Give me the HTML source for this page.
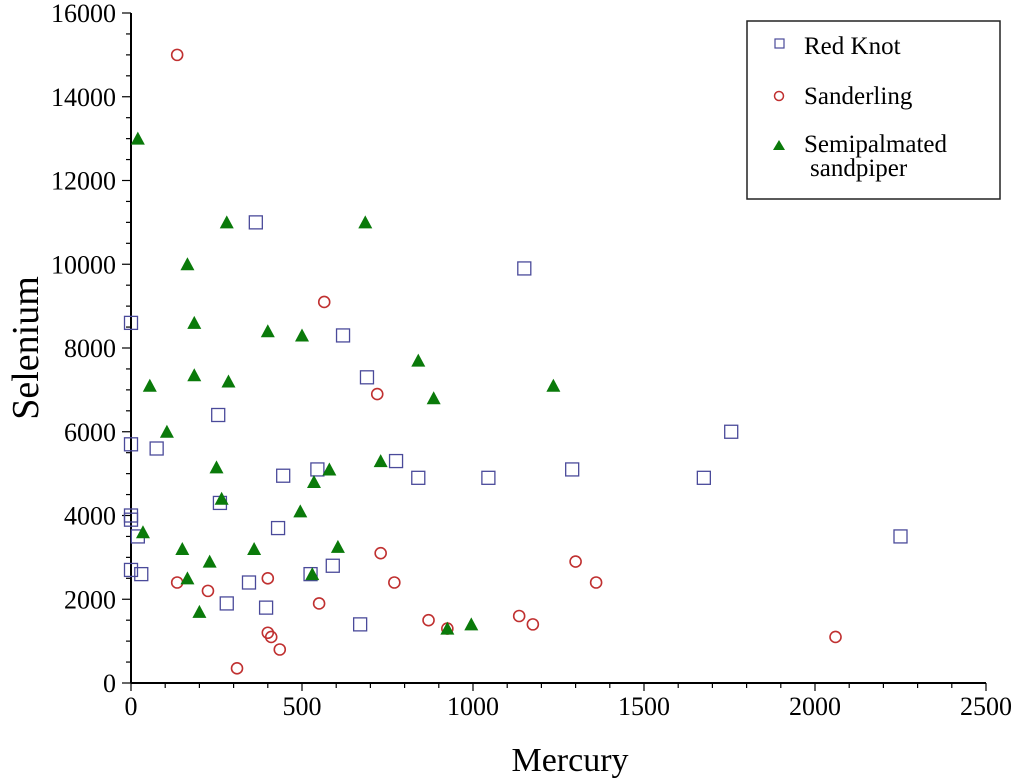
<!DOCTYPE html>
<html><head><meta charset="utf-8"><style>
body{margin:0;background:#fff}
svg{display:block;font-family:"Liberation Serif",serif}
</style></head><body>
<svg id="chart" width="1024" height="781" viewBox="0 0 1024 781" xmlns="http://www.w3.org/2000/svg">
<g id="axes"></g>
<g id="marks"></g>
<text x="0" y="0" transform="translate(38,348) rotate(-90)" text-anchor="middle" font-size="38">Selenium</text>
<text x="570" y="771" text-anchor="middle" font-size="34">Mercury</text>
<g>
<rect x="747" y="21" width="253" height="178" fill="#fff" stroke="#222" stroke-width="1.5"/>
<g><rect x="775" y="39" width="9" height="9" fill="none" stroke="#4a4a9a" stroke-width="1.2"/><text x="804" y="54" font-size="25">Red Knot</text></g>
<g><circle cx="779" cy="96" r="4.5" fill="none" stroke="#c03030" stroke-width="1.5"/><text x="804" y="104" font-size="25">Sanderling</text></g>
<g><polygon points="779,140 785,150 773,150" fill="#0a7a0a"/><text x="804" y="152" font-size="25">Semipalmated</text><text x="810" y="176" font-size="25">sandpiper</text></g>
</g>
</svg>
<script>
const xTicks=[0,500,1000,1500,2000,2500];
const yTicks=[0,2000,4000,6000,8000,10000,12000,14000,16000];
const redKnotX=[0,365,1150,620,690,255,0,75,1755,445,545,775,840,1045,1290,1675,260,430,0,0,20,0,30,345,280,395,525,590,670,2250];
const redKnotY=[8600,11000,9900,8300,7300,6400,5700,5600,6000,4950,5100,5300,4900,4900,5100,4900,4300,3700,4000,3900,3500,2700,2600,2400,1900,1800,2600,2800,1400,3500];
const sanderlingX=[135,565,720,730,135,225,400,770,550,400,410,435,310,870,925,1135,1175,1300,1360,2060];
const sanderlingY=[15000,9100,6900,3100,2400,2200,2500,2400,1900,1200,1100,800,350,1500,1300,1600,1400,2900,2400,1100];
const sandpiperX=[20,280,685,165,185,400,500,55,185,285,840,885,1235,105,250,580,730,535,265,495,35,150,360,605,230,165,530,200,925,995];
const sandpiperY=[13000,11000,11000,10000,8600,8400,8300,7100,7350,7200,7700,6800,7100,6000,5150,5100,5300,4800,4400,4100,3600,3200,3200,3250,2900,2500,2600,1700,1300,1400];
const NS='http://www.w3.org/2000/svg';
const X0=131,X1=986,Y0=683,Y1=13;
function sx(v){return X0+(v/2500)*(X1-X0);}
function sy(v){return Y0-(v/16000)*(Y0-Y1);}
function mk(t,a,p){const e=document.createElementNS(NS,t);for(const k in a)e.setAttribute(k,a[k]);p.appendChild(e);return e;}
const axes=document.getElementById('axes'),marks=document.getElementById('marks');
let e=mk('line',{x1:X0,y1:Y1,x2:X0,y2:Y0,stroke:'#000','stroke-width':2},axes);


e=mk('line',{x1:X0,y1:Y0,x2:X1,y2:Y0,stroke:'#000','stroke-width':2},axes);


for(let v=0;v<=2500;v+=100){const maj=v%500===0;mk('line',{x1:sx(v),y1:Y0,x2:sx(v),y2:Y0+(maj?8:5),stroke:'#000','stroke-width':1.2},axes);}
for(let v=0;v<=16000;v+=500){const maj=v%2000===0;mk('line',{x1:X0,y1:sy(v),x2:X0-(maj?9:5),y2:sy(v),stroke:'#000','stroke-width':1.2},axes);}
xTicks.forEach(v=>{const t=mk('text',{x:sx(v),y:Y0+32,'text-anchor':'middle','font-size':26},axes);t.textContent=v;

});
yTicks.forEach(v=>{const t=mk('text',{x:X0-15,y:sy(v)+9,'text-anchor':'end','font-size':26},axes);t.textContent=v;

});
redKnotX.forEach((v,i)=>{const x=sx(v),y=sy(redKnotY[i]);const r=mk('rect',{x:x-6.5,y:y-6.5,width:13,height:13,fill:'none',stroke:'#4a4a9a','stroke-width':1.3},marks);

});
sanderlingX.forEach((v,i)=>{const c=mk('circle',{cx:sx(v),cy:sy(sanderlingY[i]),r:5.5,fill:'none',stroke:'#c03030','stroke-width':1.6},marks);

});
sandpiperX.forEach((v,i)=>{const x=sx(v),y=sy(sandpiperY[i]);const p=mk('polygon',{points:`${x},${y-7} ${x+7},${y+6} ${x-7},${y+6}`,fill:'#0a7a0a'},marks);

});
</script>
</body></html>
